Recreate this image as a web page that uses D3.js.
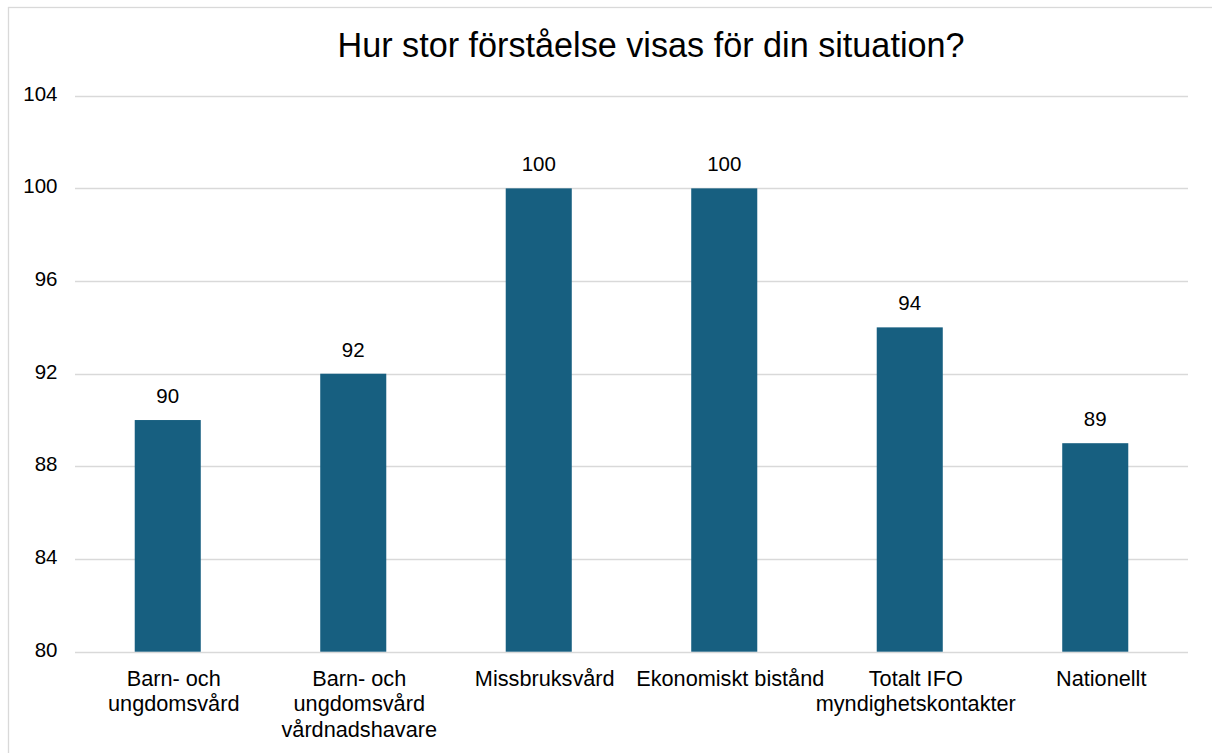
<!DOCTYPE html>
<html>
<head>
<meta charset="utf-8">
<script src="https://cdn.jsdelivr.net/npm/d3@7"></script>
<style>
  html, body { margin: 0; padding: 0; background: #fff; }
  svg { display: block; font-family: "Liberation Sans", Arial, sans-serif; }
</style>
</head>
<body>
<svg id="chart" width="1212" height="753"></svg>
<script>
const title = "Hur stor förståelse visas för din situation?";
const categories = [
  ["Barn- och", "ungdomsvård"],
  ["Barn- och", "ungdomsvård", "vårdnadshavare"],
  ["Missbruksvård"],
  ["Ekonomiskt bistånd"],
  ["Totalt IFO", "myndighetskontakter"],
  ["Nationellt"]
];
const values = [90, 92, 100, 100, 94, 89];
const yTicks = [80, 84, 88, 92, 96, 100, 104];

const svg = d3.select("#chart");
const W = 1212, H = 753;
const plotLeft = 75, plotRight = 1188, plotTop = 95.7, plotBottom = 651.7;
const numSize = 20.5, catSize = 21.7, titleSize = 34.2;

// chart border
svg.append("rect")
  .attr("x", 8.5).attr("y", 7.5)
  .attr("width", W + 20).attr("height", H + 20)
  .attr("fill", "#fff").attr("stroke", "#d9d9d9").attr("stroke-width", 1.3);

const x = d3.scaleBand()
  .domain(d3.range(categories.length))
  .range([plotLeft, plotRight])
  .paddingInner(0.644)
  .paddingOuter(0.322);

const y = d3.scaleLinear().domain([80, 104]).range([plotBottom, plotTop]);

// gridlines
svg.append("g")
  .selectAll("line")
  .data(yTicks)
  .join("line")
  .attr("x1", plotLeft).attr("x2", plotRight)
  .attr("y1", d => Math.round(y(d)) + 0.5).attr("y2", d => Math.round(y(d)) + 0.5)
  .attr("stroke", "#d9d9d9").attr("stroke-width", 1.5);

// y axis labels
const yAxis = d3.axisLeft(y).tickValues(yTicks).tickSize(0).tickPadding(0);
const gy = svg.append("g").attr("transform", `translate(57.5,0)`).call(yAxis);
gy.select(".domain").remove();
gy.selectAll("text")
  .attr("font-size", numSize)
  .attr("font-family", "Liberation Sans, Arial, sans-serif")
  .attr("fill", "#000")
  .attr("dy", "0.22em");

// bars
svg.append("g")
  .selectAll("rect")
  .data(values)
  .join("rect")
  .attr("x", (d, i) => x(i))
  .attr("width", x.bandwidth())
  .attr("y", d => y(d))
  .attr("height", d => y(80) - y(d))
  .attr("fill", "#175f80");

// value labels
svg.append("g")
  .selectAll("text")
  .data(values)
  .join("text")
  .attr("x", (d, i) => x(i) + x.bandwidth() / 2)
  .attr("y", d => y(d) - 17)
  .attr("text-anchor", "middle")
  .attr("font-size", numSize)
  .attr("fill", "#000")
  .text(d => d);

// category labels
const cat = svg.append("g")
  .selectAll("text")
  .data(categories)
  .join("text")
  .attr("text-anchor", "middle")
  .attr("font-size", catSize)
  .attr("fill", "#000")
  .attr("transform", (d, i) => `translate(${x(i) + x.bandwidth() / 2 + 6},685.5)`);
cat.selectAll("tspan")
  .data(d => d)
  .join("tspan")
  .attr("x", 0)
  .attr("y", (d, j) => j * 25.5)
  .text(d => d);

// title
svg.append("text")
  .attr("x", 651).attr("y", 57)
  .attr("text-anchor", "middle")
  .attr("font-size", titleSize)
  .attr("fill", "#000")
  .text(title);
</script>
</body>
</html>
